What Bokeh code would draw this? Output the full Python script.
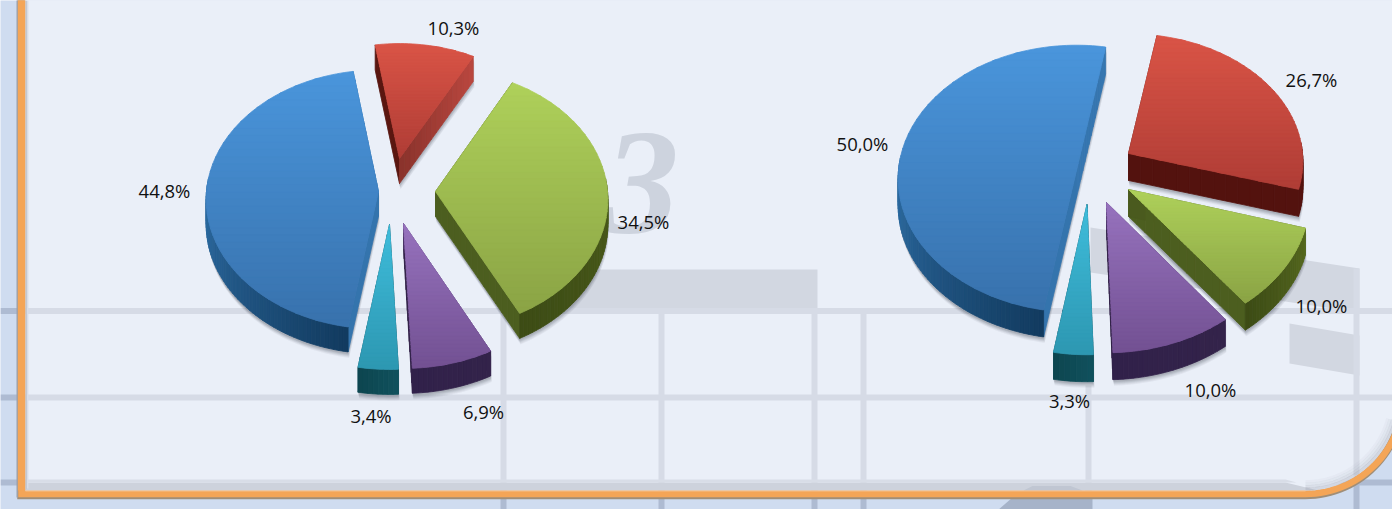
import math
from bokeh.core.properties import value
from bokeh.embed import file_html
from bokeh.models import Range1d
from bokeh.plotting import figure
from bokeh.resources import INLINE

# ---------------- data ----------------
slice_names = ["red", "green", "purple", "cyan", "blue"]
left_values = [10.3, 34.5, 6.9, 3.4, 44.8]
right_values = [26.7, 10.0, 10.0, 3.3, 50.0]

# ---------------- layout and style ----------------
PERSPECTIVE = 0.0615
top_colors = {
    "red": ("#D95446", "#B03D36"), "green": ("#AED05A", "#8BA445"),
    "purple": ("#9672BD", "#735193"), "cyan": ("#3FBCDB", "#2D98B2"),
    "blue": ("#4A95DB", "#3872AD"),
}
# wall colours: start edge, end edge (outer to apex), arc start, arc end
left_walls = {
    "red": ("#5A1610", ("#B8463E", "#8B332C"), "#A8423A", "#A8423A"),
    "green": ("#4A5A1E", ("#4C5E1F", "#4C5E1F"), "#56691F", "#3D4C15"),
    "purple": ("#4B3369", ("#33234A", "#33234A"), "#33234A", "#31214A"),
    "cyan": ("#0F4A55", ("#0F4A55", "#0F4A55"), "#10505C", "#0D4650"),
    "blue": ("#3474AD", ("#2F6FA8", "#2F6FA8"), "#123B60", "#2F6FA6"),
}
right_walls = {
    "red": ("#5A1610", ("#53120E", "#53120E"), "#54130F", "#54130F"),
    "green": ("#4A5A1E", ("#4C5E1F", "#4C5E1F"), "#56691F", "#3D4C15"),
    "purple": ("#4B3369", ("#33234A", "#33234A"), "#33234A", "#31214A"),
    "cyan": ("#0F4A55", ("#0F4A55", "#0F4A55"), "#10505C", "#0D4650"),
    "blue": ("#3474AD", ("#3676B0", "#3676B0"), "#123B60", "#2F6FA6"),
}
# apex x, apex y, half width, half height of every exploded slice
left_shape = {
    "red": (399, 158, 165, 122), "green": (435, 191, 172, 130),
    "purple": (403, 223, 178, 136), "cyan": (389, 224, 178, 136),
    "blue": (378, 191, 172, 129),
}
right_shape = {
    "red": (1128, 153, 174, 127), "green": (1128, 189, 181, 137),
    "purple": (1106, 202, 184, 141), "cyan": (1086.5, 204, 181, 141),
    "blue": (1076, 170, 178, 133),
}
left_labels = {"red": (453, 26.5), "green": (643, 220.5), "purple": (483, 410.5),
               "cyan": (370.5, 414.5), "blue": (164, 189.5)}
right_labels = {"red": (1311, 78.5), "green": (1321, 304.5), "purple": (1210, 388.5),
                "cyan": (1069, 399.5), "blue": (862, 142.5)}

STRIP = "#CFDCF0"
PANEL = "#EAEFF8"
GRID = "#D6DBE6"
GRID_OUT = "#AEBBD2"
BLOCK = "#D2D7E1"
ORANGE = "#F4A557"

p = figure(width=1392, height=509, output_backend="svg", toolbar_location=None,
           x_range=Range1d(0, 1392), y_range=Range1d(509, 0), min_border=0)
p.axis.visible = False
p.grid.visible = False
p.outline_line_color = None
p.background_fill_color = STRIP
p.border_fill_color = STRIP

# ---------------- backdrop ----------------
ARC_X, ARC_Y, ARC_R = 1305, 396, 97.5


def arc_at(r):
    return [(ARC_X + r * math.sin(math.radians(t)), ARC_Y + r * math.cos(math.radians(t)))
            for t in range(0, 76, 3)]


arc = arc_at(ARC_R)
inner = arc_at(ARC_R - 3.5)
panel_xs = [25, 1400, 1400] + [a[0] for a in reversed(inner)] + [25]
panel_ys = [0, 0, inner[-1][1]] + [a[1] for a in reversed(inner)] + [490]


def hline(y, x0, x1, color, w=6):
    p.line([x0, x1], [y, y], line_color=color, line_width=w)


def vline(x, y0, y1, color, w=6):
    p.line([x, x], [y0, y1], line_color=color, line_width=w)


vert_x = [503, 661, 814, 863, 1088, 1356]
for y in (310.5, 397, 482):
    hline(y, 0, 1400, GRID_OUT)
for x in vert_x:
    vline(x, 440, 510, GRID_OUT)
p.patch([997, 1012, 1092, 1092], [510, 497, 497, 510], fill_color="#A6B3C9", line_color=None)

p.patch(panel_xs, panel_ys, fill_color=PANEL, line_color=None)

# grey blocks
p.patch([560, 817, 817, 560], [269, 269, 313, 313], fill_color=BLOCK, line_color=None)
p.patch([1090, 1359, 1359, 1090], [227, 268, 312, 272], fill_color=BLOCK, line_color=None)
p.patch([1289, 1359, 1359, 1289], [323, 335, 375, 363], fill_color=BLOCK, line_color=None)

hline(310.5, 25, 1400, GRID)
hline(397, 25, 1400, GRID)
for x, y0 in zip(vert_x, (310, 310, 310, 310, 385, 268)):
    yend = 490 if x != 1356 else ARC_Y + math.sqrt((ARC_R - 3.5) ** 2 - (x - ARC_X) ** 2)
    vline(x, y0, yend, GRID)

# soft inner shade along the bottom edge
p.patch([25, 1285, 1318, 25], [482, 482, 490, 490], fill_color="#CDD2DC", line_color=None)
p.patch([25, 1285, 1296, 25], [479, 479, 482, 482], fill_color="#D8DDE7", line_color=None)
p.patch([1023, 1032, 1070, 1082], [490, 485.5, 485.5, 490], fill_color="#C0C6D2", line_color=None)
for dr, a in ((5, .25), (7.5, .16), (10, .09), (12.5, .05)):
    pts = arc_at(ARC_R - dr)
    p.line([q[0] for q in pts], [q[1] for q in pts], line_color="#8A909E", line_width=3, line_alpha=a)

# big decorative numeral
p.text([641], [183], text=["3"], text_font=value("Liberation Serif"), text_font_style="bold italic",
       text_font_size="150px", text_color="#CDD3DE", text_align="center", text_baseline="middle")

# frame
frame_x = [21, 21, 1305] + [q[0] for q in arc] + [1410]
frame_y = [-5, 493.5, 493.5] + [q[1] for q in arc] + [arc[-1][1] - 30]
p.line([x - .5 for x in frame_x], [y + 1.5 for y in frame_y], line_color="#A08E78", line_width=7.5, line_join="miter")
p.line(frame_x, frame_y, line_color=ORANGE, line_width=6.5, line_join="miter")
vline(21, -5, 490, ORANGE, 8)
vline(16.6, -5, 497, "#9AA0AC", 1.2)
p.line([25, 1305], [490.5, 490.5], line_color="#F6C08A", line_width=1.2)
vline(25.8, 0, 489, "#C3C8D2", 1.6)
vline(27.2, 0, 488, "#D9DDE6", 1.4)


# ---------------- pies ----------------
def hex2rgb(c):
    return tuple(int(c[i:i + 2], 16) for i in (1, 3, 5))


def mix(c0, c1, t):
    a, b = hex2rgb(c0), hex2rgb(c1)
    return "#%02X%02X%02X" % tuple(round(x + (y - x) * t) for x, y in zip(a, b))


def project(shape, ang):
    ax, ay, a, b = shape
    u, v = math.sin(ang), -math.cos(ang)
    s = 1 / (1 - PERSPECTIVE * v)
    return ax + a * u * s, ay + b * v * s


def clip_band(poly, y0, y1):
    def clip(pts, inside, y):
        out = []
        for i, q in enumerate(pts):
            r = pts[(i + 1) % len(pts)]
            if inside(q):
                out.append(q)
            if inside(q) != inside(r):
                t = (y - q[1]) / (r[1] - q[1])
                out.append((q[0] + (r[0] - q[0]) * t, y))
        return out
    pts = clip(poly, lambda q: q[1] >= y0, y0)
    return clip(pts, lambda q: q[1] <= y1, y1) if pts else []


def hull(points):
    pts = sorted(set(points))
    def half(seq):
        h = []
        for q in seq:
            while len(h) > 1 and (h[-1][0] - h[-2][0]) * (q[1] - h[-2][1]) - (h[-1][1] - h[-2][1]) * (q[0] - h[-2][0]) <= 0:
                h.pop()
            h.append(q)
        return h[:-1]
    return half(pts) + half(pts[::-1])


def draw_pie(values, shapes, walls, labels, start_deg, depth):
    total = sum(values)
    cur = start_deg
    slices = []
    for name, val in zip(slice_names, values):
        sweep = 360 * val / total
        slices.append((name, val, cur, cur + sweep))
        cur += sweep
    for name, val, a0, a1 in slices:
        sh = shapes[name]
        n = max(4, int((a1 - a0) / 1.5))
        arc_pts = [project(sh, math.radians(a0 + (a1 - a0) * i / n)) for i in range(n + 1)]
        top = [(sh[0], sh[1])] + arc_pts
        outline = hull(top + [(x, y + depth) for x, y in top])
        for dx, dy, al in ((1, 6, .05), (1, 5, .06), (.5, 4, .08), (.5, 3, .09), (0, 2, .10)):
            p.patch([q[0] + dx for q in outline], [q[1] + dy for q in outline],
                    fill_color="#2A2F3A", fill_alpha=al, line_color=None)
    for name, val, a0, a1 in slices:
        sh = shapes[name]
        n = max(4, int((a1 - a0) / 1.5))
        angs = [a0 + (a1 - a0) * i / n for i in range(n + 1)]
        arc_pts = [project(sh, math.radians(t)) for t in angs]
        apex = (sh[0], sh[1])
        c_start, c_end, arc0, arc1 = walls[name]
        faces = [([apex, arc_pts[0]], c_start)]
        for j in range(14):
            q = (arc_pts[-1][0] + (apex[0] - arc_pts[-1][0]) * j / 14, arc_pts[-1][1] + (apex[1] - arc_pts[-1][1]) * j / 14)
            r = (arc_pts[-1][0] + (apex[0] - arc_pts[-1][0]) * (j + 1) / 14, arc_pts[-1][1] + (apex[1] - arc_pts[-1][1]) * (j + 1) / 14)
            faces.append(([q, r], mix(c_end[0], c_end[1], j / 13)))
        for i in range(n):
            # back of the rim is hidden behind the top surface
            if math.cos(math.radians(angs[i])) > 0.08 and math.cos(math.radians(angs[i + 1])) > 0.08:
                continue
            # the blue wall is only seen up to the left side of the pie
            t = min(1, (angs[i] - a0) / (270 - a0)) if name == "blue" else i / max(1, n - 1)
            faces.append(([arc_pts[i], arc_pts[i + 1]], mix(arc0, arc1, t)))
        faces.sort(key=lambda f: (f[0][0][1] + f[0][1][1]))
        for (q, r), col in faces:
            p.patch([q[0], r[0], r[0], q[0]], [q[1], r[1], r[1] + depth, q[1] + depth],
                    fill_color=col, line_color=col, line_width=.8)
        poly = [apex] + arc_pts
        y_min = min(q[1] for q in poly)
        y_max = max(q[1] for q in poly)
        bands = 36
        c0, c1 = top_colors[name]
        for i in range(bands):
            y0 = y_min + (y_max - y_min) * i / bands
            y1 = y_min + (y_max - y_min) * (i + 1) / bands
            piece = clip_band(poly, y0, y1 + 1)
            if len(piece) >= 3:
                col = mix(c0, c1, i / (bands - 1))
                p.patch([q[0] for q in piece], [q[1] for q in piece], fill_color=col,
                        line_color=col, line_width=.8, line_join="round")
    for name, val, a0, a1 in slices:
        lx, ly = labels[name]
        p.text([lx], [ly], text=[f"{val:.1f}".replace(".", ",") + "%"], text_font=value("Open Sans"),
               text_font_size="18.5px", text_color="#111111", text_align="center", text_baseline="middle")


START_ANGLES = (-9, 10)
draw_pie(left_values, left_shape, left_walls, left_labels, START_ANGLES[0], 25)
draw_pie(right_values, right_shape, right_walls, right_labels, START_ANGLES[1], 27)

open("out.html", "w").write(file_html(p, INLINE))
